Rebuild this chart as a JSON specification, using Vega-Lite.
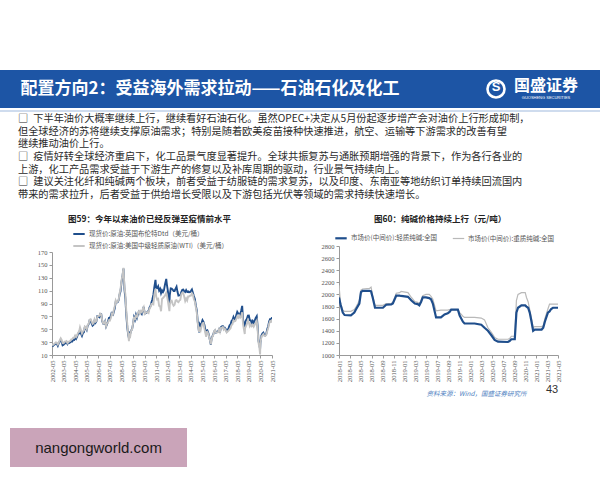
{
  "$schema": "https://vega.github.io/schema/vega-lite/v6.json",
  "background": "white",
  "padding": {"left": 0, "top": 70, "right": 0, "bottom": 10},
  "autosize": {"type": "pad"},
  "spacing": 0,
  "config": {"view": {"stroke": null}, "font": "Noto Sans CJK SC"},
  "datasets": {
    "oil": [
      {"d":"2002-05-01","brent":25.4,"wti":27.0},{"d":"2002-06-01","brent":24.1,"wti":25.5},{"d":"2002-07-01","brent":25.7,"wti":26.9},{"d":"2002-08-01","brent":26.6,"wti":28.4},{"d":"2002-09-01","brent":28.4,"wti":29.7},{"d":"2002-10-01","brent":27.5,"wti":28.9},{"d":"2002-11-01","brent":24.3,"wti":26.3},{"d":"2002-12-01","brent":28.3,"wti":29.4},
      {"d":"2003-01-01","brent":31.2,"wti":32.9},{"d":"2003-02-01","brent":32.8,"wti":35.9},{"d":"2003-03-01","brent":30.3,"wti":33.6},{"d":"2003-04-01","brent":25.0,"wti":28.3},{"d":"2003-05-01","brent":25.8,"wti":28.1},{"d":"2003-06-01","brent":27.6,"wti":30.7},{"d":"2003-07-01","brent":28.4,"wti":30.8},{"d":"2003-08-01","brent":29.8,"wti":31.6},{"d":"2003-09-01","brent":27.1,"wti":28.3},{"d":"2003-10-01","brent":29.6,"wti":30.3},{"d":"2003-11-01","brent":28.8,"wti":31.1},{"d":"2003-12-01","brent":29.8,"wti":32.1},
      {"d":"2004-01-01","brent":31.2,"wti":34.3},{"d":"2004-02-01","brent":30.9,"wti":34.7},{"d":"2004-03-01","brent":33.8,"wti":36.7},{"d":"2004-04-01","brent":33.4,"wti":36.7},{"d":"2004-05-01","brent":37.9,"wti":40.3},{"d":"2004-06-01","brent":35.2,"wti":38.0},{"d":"2004-07-01","brent":38.4,"wti":40.7},{"d":"2004-08-01","brent":43.0,"wti":44.9},{"d":"2004-09-01","brent":43.4,"wti":45.9},{"d":"2004-10-01","brent":49.8,"wti":53.1},{"d":"2004-11-01","brent":43.1,"wti":48.5},{"d":"2004-12-01","brent":39.7,"wti":43.3},
      {"d":"2005-01-01","brent":44.3,"wti":46.8},{"d":"2005-02-01","brent":45.5,"wti":48.0},{"d":"2005-03-01","brent":53.1,"wti":54.3},{"d":"2005-04-01","brent":51.9,"wti":53.0},{"d":"2005-05-01","brent":49.0,"wti":50.0},{"d":"2005-06-01","brent":55.6,"wti":56.6},{"d":"2005-07-01","brent":57.9,"wti":58.7},{"d":"2005-08-01","brent":63.8,"wti":65.0},{"d":"2005-09-01","brent":63.7,"wti":65.6},{"d":"2005-10-01","brent":59.0,"wti":62.4},{"d":"2005-11-01","brent":55.6,"wti":58.3},{"d":"2005-12-01","brent":56.9,"wti":59.4},
      {"d":"2006-01-01","brent":62.9,"wti":65.5},{"d":"2006-02-01","brent":60.0,"wti":61.6},{"d":"2006-03-01","brent":62.3,"wti":62.7},{"d":"2006-04-01","brent":70.4,"wti":69.4},{"d":"2006-05-01","brent":70.0,"wti":70.8},{"d":"2006-06-01","brent":68.9,"wti":70.9},{"d":"2006-07-01","brent":73.7,"wti":74.4},{"d":"2006-08-01","brent":73.2,"wti":73.0},{"d":"2006-09-01","brent":62.8,"wti":63.8},{"d":"2006-10-01","brent":58.6,"wti":58.9},{"d":"2006-11-01","brent":58.5,"wti":59.1},{"d":"2006-12-01","brent":62.3,"wti":62.0},
      {"d":"2007-01-01","brent":54.3,"wti":54.5},{"d":"2007-02-01","brent":58.0,"wti":59.3},{"d":"2007-03-01","brent":62.1,"wti":60.4},{"d":"2007-04-01","brent":67.5,"wti":64.0},{"d":"2007-05-01","brent":67.2,"wti":63.5},{"d":"2007-06-01","brent":71.1,"wti":67.5},{"d":"2007-07-01","brent":77.0,"wti":74.1},{"d":"2007-08-01","brent":70.8,"wti":72.4},{"d":"2007-09-01","brent":77.1,"wti":79.9},{"d":"2007-10-01","brent":82.3,"wti":85.8},{"d":"2007-11-01","brent":92.5,"wti":94.8},{"d":"2007-12-01","brent":91.5,"wti":91.7},
      {"d":"2008-01-01","brent":92.0,"wti":93.0},{"d":"2008-02-01","brent":95.0,"wti":95.4},{"d":"2008-03-01","brent":103.6,"wti":105.5},{"d":"2008-04-01","brent":109.1,"wti":112.6},{"d":"2008-05-01","brent":122.8,"wti":125.4},{"d":"2008-06-01","brent":132.3,"wti":133.9},{"d":"2008-07-03","brent":144.2,"wti":145.3},{"d":"2008-08-01","brent":113.2,"wti":116.7},{"d":"2008-09-01","brent":97.2,"wti":104.1},{"d":"2008-10-01","brent":71.6,"wti":76.6},{"d":"2008-11-01","brent":52.5,"wti":57.3},{"d":"2008-12-01","brent":40.4,"wti":41.1},{"d":"2008-12-22","brent":36.6,"wti":31.4},
      {"d":"2009-01-01","brent":44.9,"wti":41.7},{"d":"2009-02-01","brent":43.4,"wti":39.1},{"d":"2009-03-01","brent":47.7,"wti":47.9},{"d":"2009-04-01","brent":50.6,"wti":49.7},{"d":"2009-05-01","brent":57.9,"wti":59.0},{"d":"2009-06-01","brent":68.6,"wti":69.6},{"d":"2009-07-01","brent":64.9,"wti":64.2},{"d":"2009-08-01","brent":72.5,"wti":71.1},{"d":"2009-09-01","brent":67.7,"wti":69.4},{"d":"2009-10-01","brent":73.2,"wti":75.7},{"d":"2009-11-01","brent":77.0,"wti":78.0},{"d":"2009-12-01","brent":74.7,"wti":74.5},
      {"d":"2010-01-01","brent":76.2,"wti":78.3},{"d":"2010-02-01","brent":73.8,"wti":76.4},{"d":"2010-03-01","brent":78.8,"wti":81.2},{"d":"2010-04-01","brent":84.8,"wti":84.3},{"d":"2010-05-01","brent":75.9,"wti":73.7},{"d":"2010-06-01","brent":74.8,"wti":75.3},{"d":"2010-07-01","brent":75.6,"wti":76.3},{"d":"2010-08-01","brent":77.1,"wti":76.6},{"d":"2010-09-01","brent":78.2,"wti":75.2},{"d":"2010-10-01","brent":83.5,"wti":81.9},{"d":"2010-11-01","brent":86.1,"wti":84.3},{"d":"2010-12-01","brent":91.5,"wti":89.2},
      {"d":"2011-01-01","brent":96.5,"wti":89.2},{"d":"2011-02-01","brent":103.7,"wti":88.6},{"d":"2011-03-01","brent":114.6,"wti":102.9},{"d":"2011-04-08","brent":126.6,"wti":112.8},{"d":"2011-05-01","brent":114.5,"wti":100.9},{"d":"2011-06-01","brent":113.9,"wti":96.3},{"d":"2011-07-01","brent":116.7,"wti":97.3},{"d":"2011-08-01","brent":110.2,"wti":86.3},{"d":"2011-09-01","brent":112.8,"wti":85.5},{"d":"2011-10-01","brent":106.0,"wti":78.0},{"d":"2011-11-01","brent":110.5,"wti":97.2},{"d":"2011-12-01","brent":107.9,"wti":98.6},
      {"d":"2012-01-01","brent":110.7,"wti":100.3},{"d":"2012-02-01","brent":119.3,"wti":102.2},{"d":"2012-03-13","brent":128.1,"wti":106.7},{"d":"2012-04-01","brent":119.8,"wti":103.3},{"d":"2012-05-01","brent":110.3,"wti":94.7},{"d":"2012-06-21","brent":89.2,"wti":78.2},{"d":"2012-07-01","brent":102.6,"wti":87.9},{"d":"2012-08-01","brent":113.4,"wti":94.1},{"d":"2012-09-01","brent":113.0,"wti":94.5},{"d":"2012-10-01","brent":111.5,"wti":89.5},{"d":"2012-11-01","brent":109.5,"wti":86.5},{"d":"2012-12-01","brent":109.5,"wti":87.9},
      {"d":"2013-01-01","brent":113.0,"wti":94.8},{"d":"2013-02-01","brent":116.1,"wti":95.3},{"d":"2013-03-01","brent":108.5,"wti":92.9},{"d":"2013-04-01","brent":102.3,"wti":92.0},{"d":"2013-05-01","brent":102.6,"wti":94.5},{"d":"2013-06-01","brent":102.9,"wti":95.8},{"d":"2013-07-01","brent":107.9,"wti":104.6},{"d":"2013-08-01","brent":111.3,"wti":106.6},{"d":"2013-09-01","brent":111.6,"wti":106.3},{"d":"2013-10-01","brent":109.1,"wti":100.5},{"d":"2013-11-01","brent":107.8,"wti":93.9},{"d":"2013-12-01","brent":110.8,"wti":97.6},
      {"d":"2014-01-01","brent":108.1,"wti":94.6},{"d":"2014-02-01","brent":108.9,"wti":100.8},{"d":"2014-03-01","brent":107.5,"wti":100.8},{"d":"2014-04-01","brent":107.8,"wti":102.1},{"d":"2014-05-01","brent":109.7,"wti":102.2},{"d":"2014-06-01","brent":111.8,"wti":105.8},{"d":"2014-07-01","brent":106.8,"wti":103.6},{"d":"2014-08-01","brent":101.6,"wti":96.5},{"d":"2014-09-01","brent":97.1,"wti":93.2},{"d":"2014-10-01","brent":87.4,"wti":84.4},{"d":"2014-11-01","brent":79.4,"wti":75.8},{"d":"2014-12-01","brent":62.3,"wti":59.3},
      {"d":"2015-01-13","brent":45.1,"wti":45.9},{"d":"2015-02-01","brent":58.1,"wti":50.6},{"d":"2015-03-01","brent":55.9,"wti":47.8},{"d":"2015-04-01","brent":59.5,"wti":54.5},{"d":"2015-05-01","brent":64.1,"wti":59.3},{"d":"2015-06-01","brent":61.5,"wti":59.8},{"d":"2015-07-01","brent":56.6,"wti":50.9},{"d":"2015-08-24","brent":42.7,"wti":38.2},{"d":"2015-09-01","brent":47.6,"wti":45.5},{"d":"2015-10-01","brent":48.4,"wti":46.2},{"d":"2015-11-01","brent":44.3,"wti":42.4},{"d":"2015-12-01","brent":38.0,"wti":37.2},
      {"d":"2016-01-20","brent":26.0,"wti":26.7},{"d":"2016-02-01","brent":32.2,"wti":30.3},{"d":"2016-03-01","brent":38.2,"wti":37.5},{"d":"2016-04-01","brent":41.6,"wti":40.8},{"d":"2016-05-01","brent":46.7,"wti":46.7},{"d":"2016-06-01","brent":48.3,"wti":48.8},{"d":"2016-07-01","brent":44.9,"wti":44.7},{"d":"2016-08-01","brent":45.8,"wti":44.7},{"d":"2016-09-01","brent":46.6,"wti":45.2},{"d":"2016-10-01","brent":49.5,"wti":49.8},{"d":"2016-11-01","brent":44.7,"wti":45.7},{"d":"2016-12-01","brent":53.3,"wti":52.0},
      {"d":"2017-01-01","brent":54.6,"wti":52.5},{"d":"2017-02-01","brent":54.9,"wti":53.5},{"d":"2017-03-01","brent":51.6,"wti":49.3},{"d":"2017-04-01","brent":52.3,"wti":51.1},{"d":"2017-05-01","brent":50.3,"wti":48.5},{"d":"2017-06-01","brent":46.4,"wti":45.2},{"d":"2017-07-01","brent":48.5,"wti":46.6},{"d":"2017-08-01","brent":51.7,"wti":48.0},{"d":"2017-09-01","brent":56.2,"wti":49.8},{"d":"2017-10-01","brent":57.5,"wti":51.6},{"d":"2017-11-01","brent":62.7,"wti":56.6},{"d":"2017-12-01","brent":64.4,"wti":57.9},
      {"d":"2018-01-01","brent":69.1,"wti":63.7},{"d":"2018-02-01","brent":65.3,"wti":62.2},{"d":"2018-03-01","brent":66.0,"wti":62.7},{"d":"2018-04-01","brent":72.1,"wti":66.3},{"d":"2018-05-01","brent":77.0,"wti":70.0},{"d":"2018-06-01","brent":74.4,"wti":67.9},{"d":"2018-07-01","brent":74.3,"wti":71.0},{"d":"2018-08-01","brent":72.5,"wti":68.1},{"d":"2018-09-01","brent":78.9,"wti":70.2},{"d":"2018-10-03","brent":86.3,"wti":76.4},{"d":"2018-11-01","brent":64.8,"wti":57.0},{"d":"2018-12-24","brent":50.5,"wti":42.5},
      {"d":"2019-01-01","brent":59.4,"wti":51.4},{"d":"2019-02-01","brent":64.0,"wti":55.0},{"d":"2019-03-01","brent":66.1,"wti":58.2},{"d":"2019-04-01","brent":71.2,"wti":63.9},{"d":"2019-05-01","brent":71.3,"wti":60.8},{"d":"2019-06-01","brent":64.2,"wti":54.7},{"d":"2019-07-01","brent":63.9,"wti":57.4},{"d":"2019-08-01","brent":59.0,"wti":54.8},{"d":"2019-09-01","brent":62.8,"wti":57.0},{"d":"2019-10-01","brent":59.7,"wti":54.0},{"d":"2019-11-01","brent":63.2,"wti":57.0},{"d":"2019-12-01","brent":67.3,"wti":59.9},
      {"d":"2020-01-06","brent":70.3,"wti":63.3},{"d":"2020-02-01","brent":55.7,"wti":50.5},{"d":"2020-03-01","brent":32.0,"wti":29.2},{"d":"2020-04-01","brent":25.0,"wti":20.3},{"d":"2020-04-21","brent":19.3,"wti":11.0},{"d":"2020-05-01","brent":29.4,"wti":28.6},{"d":"2020-06-01","brent":40.3,"wti":38.3},{"d":"2020-07-01","brent":43.2,"wti":40.7},{"d":"2020-08-01","brent":44.7,"wti":42.3},{"d":"2020-09-01","brent":40.9,"wti":39.6},{"d":"2020-10-01","brent":40.2,"wti":39.4},{"d":"2020-11-01","brent":42.7,"wti":41.4},{"d":"2020-12-01","brent":49.9,"wti":47.0},
      {"d":"2021-01-01","brent":54.8,"wti":52.0},{"d":"2021-02-01","brent":62.3,"wti":59.0},{"d":"2021-03-01","brent":65.4,"wti":62.3},{"d":"2021-04-01","brent":64.8,"wti":61.7},{"d":"2021-05-01","brent":68.5,"wti":65.2}
    ],
    "soda": [
      {"d":"2018-01-01","light":1950,"heavy":2150},{"d":"2018-01-10","light":1830,"heavy":1850},{"d":"2018-01-22","light":1700,"heavy":1740},{"d":"2018-02-01","light":1660,"heavy":1720},{"d":"2018-03-08","light":1655,"heavy":1720},{"d":"2018-03-27","light":1700,"heavy":1750},{"d":"2018-04-05","light":1750,"heavy":1790},{"d":"2018-04-24","light":1850,"heavy":1900},{"d":"2018-05-03","light":2040,"heavy":2070},{"d":"2018-05-12","light":2060,"heavy":2090},{"d":"2018-06-19","light":2060,"heavy":2100},{"d":"2018-06-28","light":2050,"heavy":2120},{"d":"2018-07-07","light":1950,"heavy":1980},{"d":"2018-07-20","light":1780,"heavy":1820},{"d":"2018-09-02","light":1780,"heavy":1820},{"d":"2018-09-20","light":1830,"heavy":1850},{"d":"2018-10-18","light":1835,"heavy":1855},{"d":"2018-10-27","light":1850,"heavy":1870},{"d":"2018-11-15","light":1980,"heavy":2020},{"d":"2018-12-03","light":1980,"heavy":2030},{"d":"2018-12-12","light":1975,"heavy":2050},
      {"d":"2019-01-19","light":1960,"heavy":2030},{"d":"2019-02-07","light":1900,"heavy":1950},{"d":"2019-02-26","light":1850,"heavy":1880},{"d":"2019-03-14","light":1840,"heavy":1870},{"d":"2019-03-23","light":1820,"heavy":1850},{"d":"2019-04-02","light":1880,"heavy":1900},{"d":"2019-04-11","light":1950,"heavy":1980},{"d":"2019-04-29","light":1950,"heavy":2000},{"d":"2019-05-17","light":1940,"heavy":2000},{"d":"2019-05-27","light":1920,"heavy":1970},{"d":"2019-06-06","light":1850,"heavy":1920},{"d":"2019-06-24","light":1620,"heavy":1730},{"d":"2019-07-21","light":1620,"heavy":1740},{"d":"2019-08-10","light":1670,"heavy":1740},{"d":"2019-08-28","light":1690,"heavy":1740},{"d":"2019-09-07","light":1710,"heavy":1750},{"d":"2019-09-16","light":1750,"heavy":1750},{"d":"2019-10-23","light":1750,"heavy":1750},{"d":"2019-11-02","light":1650,"heavy":1700},{"d":"2019-11-20","light":1550,"heavy":1640},{"d":"2019-11-29","light":1520,"heavy":1620},
      {"d":"2020-01-24","light":1520,"heavy":1620},{"d":"2020-03-01","light":1500,"heavy":1610},{"d":"2020-03-19","light":1450,"heavy":1580},{"d":"2020-04-07","light":1400,"heavy":1450},{"d":"2020-04-25","light":1330,"heavy":1380},{"d":"2020-05-14","light":1250,"heavy":1290},{"d":"2020-06-02","light":1220,"heavy":1260},{"d":"2020-07-27","light":1215,"heavy":1260},{"d":"2020-08-05","light":1230,"heavy":1270},{"d":"2020-08-15","light":1260,"heavy":1310},{"d":"2020-09-03","light":1260,"heavy":1310},{"d":"2020-09-12","light":1700,"heavy":1900},{"d":"2020-09-21","light":1780,"heavy":2000},{"d":"2020-10-10","light":1820,"heavy":2030},{"d":"2020-10-31","light":1820,"heavy":2030},{"d":"2020-11-07","light":1800,"heavy":1950},{"d":"2020-11-16","light":1780,"heavy":1880},{"d":"2020-11-25","light":1700,"heavy":1750},{"d":"2020-12-05","light":1550,"heavy":1600},{"d":"2020-12-14","light":1400,"heavy":1450},{"d":"2020-12-23","light":1420,"heavy":1470},
      {"d":"2021-01-30","light":1420,"heavy":1470},{"d":"2021-02-08","light":1450,"heavy":1480},{"d":"2021-02-17","light":1550,"heavy":1600},{"d":"2021-03-06","light":1700,"heavy":1760},{"d":"2021-03-15","light":1720,"heavy":1840},{"d":"2021-03-24","light":1760,"heavy":1840},{"d":"2021-04-03","light":1780,"heavy":1840},{"d":"2021-05-01","light":1780,"heavy":1840}
    ]
  },
  "vconcat": [
    {
      "spacing": 0,
      "hconcat": [
        {"width": 14, "height": 38, "view": {"fill": "#1d55a5", "stroke": null}, "data": {"values": [{}]}, "mark": {"type": "point", "opacity": 0}},
        {"width": 392, "height": 38, "view": {"fill": "#1d55a5", "stroke": null}, "data": {"values": [{"t": "配置方向2：受益海外需求拉动——石油石化及化工"}]}, "mark": {"type": "text", "fontSize": 17, "fontWeight": "bold", "color": "white", "font": "Noto Sans CJK SC"}, "encoding": {"text": {"field": "t"}}},
        {"width": 74, "height": 38, "view": {"fill": "#1d55a5", "stroke": null}, "data": {"values": [{}]}, "mark": {"type": "point", "opacity": 0}},
        {"width": 32, "height": 38, "view": {"fill": "#1d55a5", "stroke": null}, "data": {"values": [{"t": "S"}]},
         "layer": [
           {"mark": {"type": "point", "shape": "circle", "size": 290, "filled": false, "stroke": "white", "strokeWidth": 2.6, "opacity": 1, "dy": -2}},
           {"mark": {"type": "text", "fontSize": 13, "fontWeight": "bold", "color": "white", "font": "Liberation Sans", "dy": -2}, "encoding": {"text": {"field": "t"}}}
         ]},
        {"width": 68, "height": 38, "view": {"fill": "#1d55a5", "stroke": null}, "data": {"values": [{"t": "国盛证券", "s": "GUOSHENG SECURITIES"}]},
         "layer": [
           {"mark": {"type": "text", "fontSize": 16, "fontWeight": "bold", "color": "white", "font": "Noto Sans CJK SC", "dy": -3}, "encoding": {"text": {"field": "t"}}},
           {"mark": {"type": "text", "fontSize": 4, "color": "white", "font": "Liberation Sans", "dy": 9}, "encoding": {"text": {"field": "s"}}}
         ]},
        {"width": 20, "height": 38, "view": {"fill": "#1d55a5", "stroke": null}, "data": {"values": [{}]}, "mark": {"type": "point", "opacity": 0}}
      ]
    },
    {"width": 600, "height": 2, "view": {"fill": "#cfdcee", "stroke": null}, "data": {"values": [{}]}, "mark": {"type": "point", "opacity": 0}},
    {
      "width": 600, "height": 95, "data": {"values": [{}]}, "mark": {"type": "point", "opacity": 0},
      "title": {
        "text": [
          "□\u2002下半年油价大概率继续上行，继续看好石油石化。虽然OPEC+决定从5月份起逐步增产会对油价上行形成抑制，",
          "\u3000\u2002但全球经济的苏将继续支撑原油需求；特别是随着欧美疫苗接种快速推进，航空、运输等下游需求的改善有望",
          "\u3000\u2002继续推动油价上行。",
          "□\u2002疫情好转全球经济重启下，化工品景气度显著提升。全球共振复苏与通胀预期增强的背景下，作为各行各业的",
          "\u3000\u2002上游，化工产品需求受益于下游生产的修复以及补库周期的驱动，行业景气持续向上。",
          "□\u2002建议关注化纤和纯碱两个板块，前者受益于纺服链的需求复苏，以及印度、东南亚等地纺织订单持续回流国内",
          "\u3000\u2002带来的需求拉升，后者受益于供给增长受限以及下游包括光伏等领域的需求持续快速增长。"
        ],
        "anchor": "start", "frame": "group", "orient": "top", "baseline": "bottom", "offset": -91, "dx": 18,
        "fontSize": 10.2, "lineHeight": 12.6, "fontWeight": "normal", "color": "#2a2a2a", "font": "Noto Sans CJK SC"
      }
    },
    {
      "spacing": 0,
      "resolve": {"scale": {"color": "independent", "strokeWidth": "independent"}, "legend": {"color": "independent", "strokeWidth": "independent"}},
      "hconcat": [
        {"width": 37, "height": 109, "data": {"values": [{}]}, "mark": {"type": "point", "opacity": 0}},
        {
          "width": 220, "height": 109,
          "data": {"name": "oil"},
          "transform": [{"fold": ["brent", "wti"], "as": ["series", "price"]}],
          "title": {"text": "图59：今年以来油价已经反弹至疫情前水平", "anchor": "start", "frame": "group", "dx": 16, "offset": 4, "fontSize": 8.5, "fontWeight": "bold", "color": "#222222", "font": "Noto Sans CJK SC"},
          "mark": {"type": "line", "strokeWidth": 1.9, "clip": true},
          "encoding": {
            "x": {
              "field": "d", "type": "temporal",
              "scale": {"type": "utc", "domain": [{"year": 2002, "month": 5, "date": 1, "utc": true}, {"year": 2021, "month": 5, "date": 1, "utc": true}]},
              "axis": {
                "values": [
                  {"year": 2002, "month": 5, "date": 1, "utc": true}, {"year": 2003, "month": 5, "date": 1, "utc": true}, {"year": 2004, "month": 5, "date": 1, "utc": true}, {"year": 2005, "month": 5, "date": 1, "utc": true}, {"year": 2006, "month": 5, "date": 1, "utc": true},
                  {"year": 2007, "month": 5, "date": 1, "utc": true}, {"year": 2008, "month": 5, "date": 1, "utc": true}, {"year": 2009, "month": 5, "date": 1, "utc": true}, {"year": 2010, "month": 5, "date": 1, "utc": true}, {"year": 2011, "month": 5, "date": 1, "utc": true},
                  {"year": 2012, "month": 5, "date": 1, "utc": true}, {"year": 2013, "month": 5, "date": 1, "utc": true}, {"year": 2014, "month": 5, "date": 1, "utc": true}, {"year": 2015, "month": 5, "date": 1, "utc": true}, {"year": 2016, "month": 5, "date": 1, "utc": true},
                  {"year": 2017, "month": 5, "date": 1, "utc": true}, {"year": 2018, "month": 5, "date": 1, "utc": true}, {"year": 2019, "month": 5, "date": 1, "utc": true}, {"year": 2020, "month": 5, "date": 1, "utc": true}, {"year": 2021, "month": 5, "date": 1, "utc": true}
                ],
                "labelExpr": "utcFormat(datum.value, '%Y-%m')", "labelAngle": 270, "labelFontSize": 6.5, "labelFont": "Liberation Serif", "labelColor": "#555555",
                "tickSize": 3, "tickColor": "#999999", "domainColor": "#999999", "grid": false, "title": null, "labelPadding": 2, "labelOverlap": false, "labelFlush": false
              }
            },
            "y": {
              "field": "price", "type": "quantitative",
              "scale": {"domain": [10, 170], "range": [109, 6], "nice": false, "zero": false},
              "axis": {"values": [10, 30, 50, 70, 90, 110, 130, 150, 170], "format": "d", "labelFontSize": 6.5, "labelFont": "Liberation Serif", "labelColor": "#555555", "tickSize": 3, "tickColor": "#999999", "domainColor": "#999999", "grid": false, "title": null, "labelPadding": 2}
            },
            "color": {
              "field": "series", "type": "nominal",
              "scale": {"domain": ["brent", "wti"], "range": ["#1f4e8c", "#c4c4c4"]},
              "legend": {
                "orient": "none", "legendX": 20, "legendY": -19, "direction": "vertical", "title": null, "padding": 0,
                "labelExpr": "datum.label == 'brent' ? '现货价:原油:英国布伦特Dtd（美元/桶）' : '现货价:原油:美国中级轻质原油(WTI)（美元/桶）'",
                "labelFontSize": 6.5, "labelColor": "#555555", "labelFont": "Noto Sans CJK SC", "symbolType": "stroke", "symbolSize": 130, "symbolStrokeWidth": 2, "rowPadding": 1, "labelOffset": 3
              }
            }
          }
        },
        {"width": 45, "height": 109, "data": {"values": [{}]}, "mark": {"type": "point", "opacity": 0}},
        {
          "width": 219, "height": 109,
          "data": {"name": "soda"},
          "transform": [{"fold": ["heavy", "light"], "as": ["series", "price"]}],
          "title": {"text": "图60：纯碱价格持续上行（元/吨）", "anchor": "start", "frame": "group", "dx": 35, "offset": 8, "fontSize": 8.5, "fontWeight": "bold", "color": "#222222", "font": "Noto Sans CJK SC"},
          "mark": {"type": "line", "clip": true},
          "encoding": {
            "x": {
              "field": "d", "type": "temporal",
              "scale": {"type": "utc", "domain": [{"year": 2018, "month": 1, "date": 1, "utc": true}, {"year": 2021, "month": 5, "date": 1, "utc": true}]},
              "axis": {
                "values": [
                  {"year": 2018, "month": 1, "date": 1, "utc": true}, {"year": 2018, "month": 3, "date": 1, "utc": true}, {"year": 2018, "month": 5, "date": 1, "utc": true}, {"year": 2018, "month": 7, "date": 1, "utc": true}, {"year": 2018, "month": 9, "date": 1, "utc": true}, {"year": 2018, "month": 11, "date": 1, "utc": true},
                  {"year": 2019, "month": 1, "date": 1, "utc": true}, {"year": 2019, "month": 3, "date": 1, "utc": true}, {"year": 2019, "month": 5, "date": 1, "utc": true}, {"year": 2019, "month": 7, "date": 1, "utc": true}, {"year": 2019, "month": 9, "date": 1, "utc": true}, {"year": 2019, "month": 11, "date": 1, "utc": true},
                  {"year": 2020, "month": 1, "date": 1, "utc": true}, {"year": 2020, "month": 3, "date": 1, "utc": true}, {"year": 2020, "month": 5, "date": 1, "utc": true}, {"year": 2020, "month": 7, "date": 1, "utc": true}, {"year": 2020, "month": 9, "date": 1, "utc": true}, {"year": 2020, "month": 11, "date": 1, "utc": true},
                  {"year": 2021, "month": 1, "date": 1, "utc": true}, {"year": 2021, "month": 3, "date": 1, "utc": true}, {"year": 2021, "month": 5, "date": 1, "utc": true}
                ],
                "labelExpr": "utcFormat(datum.value, '%Y-%m')", "labelAngle": 270, "labelFontSize": 6.5, "labelFont": "Liberation Serif", "labelColor": "#555555",
                "tickSize": 3, "tickColor": "#999999", "domainColor": "#999999", "grid": false, "title": null, "labelPadding": 2, "labelOverlap": false, "labelFlush": false
              }
            },
            "y": {
              "field": "price", "type": "quantitative",
              "scale": {"domain": [1000, 2800], "nice": false, "zero": false},
              "axis": {"values": [1000, 1200, 1400, 1600, 1800, 2000, 2200, 2400, 2600, 2800], "format": "d", "labelFontSize": 6.5, "labelFont": "Liberation Serif", "labelColor": "#555555", "tickSize": 3, "tickColor": "#999999", "domainColor": "#999999", "grid": false, "title": null, "labelPadding": 2}
            },
            "color": {
              "field": "series", "type": "nominal",
              "scale": {"domain": ["light", "heavy"], "range": ["#1f4e8c", "#b9b9b9"]},
              "legend": {
                "orient": "none", "legendX": -5, "legendY": -15, "direction": "horizontal", "title": null, "padding": 0,
                "labelExpr": "datum.label == 'light' ? '市场价(中间价):轻质纯碱:全国' : '市场价(中间价):重质纯碱:全国'",
                "labelFontSize": 6.5, "labelColor": "#555555", "labelFont": "Noto Sans CJK SC", "symbolType": "stroke", "symbolSize": 130, "symbolStrokeWidth": 2, "columnPadding": 12, "labelOffset": 3
              }
            },
            "strokeWidth": {"field": "series", "type": "nominal", "scale": {"domain": ["light", "heavy"], "range": [2.2, 1.2]}, "legend": null}
          }
        }
      ]
    },
    {
      "spacing": 0,
      "hconcat": [
        {"width": 420, "height": 20, "data": {"values": [{}]}, "mark": {"type": "point", "opacity": 0}},
        {"width": 113, "height": 20, "data": {"values": [{"t": "资料来源：Wind，国盛证券研究所"}]}, "mark": {"type": "text", "fontSize": 6.5, "fontStyle": "italic", "color": "#4f7fbf", "font": "Noto Sans CJK SC", "dy": 2}, "encoding": {"text": {"field": "t"}}},
        {"width": 12, "height": 20, "data": {"values": [{}]}, "mark": {"type": "point", "opacity": 0}},
        {"width": 12, "height": 20, "data": {"values": [{"t": "43"}]}, "mark": {"type": "text", "fontSize": 11, "color": "#333333", "font": "Liberation Sans", "dy": -2}, "encoding": {"text": {"field": "t"}}}
      ]
    },
    {"width": 600, "height": 26, "data": {"values": [{}]}, "mark": {"type": "point", "opacity": 0}},
    {
      "spacing": 0,
      "hconcat": [
        {"width": 10, "height": 39, "data": {"values": [{}]}, "mark": {"type": "point", "opacity": 0}},
        {"width": 177, "height": 39, "view": {"fill": "#caa4b9", "stroke": null}, "data": {"values": [{"t": "nangongworld.com"}]}, "mark": {"type": "text", "fontSize": 15, "color": "#1a1a1a", "font": "Liberation Sans"}, "encoding": {"text": {"field": "t"}}}
      ]
    }
  ]
}
